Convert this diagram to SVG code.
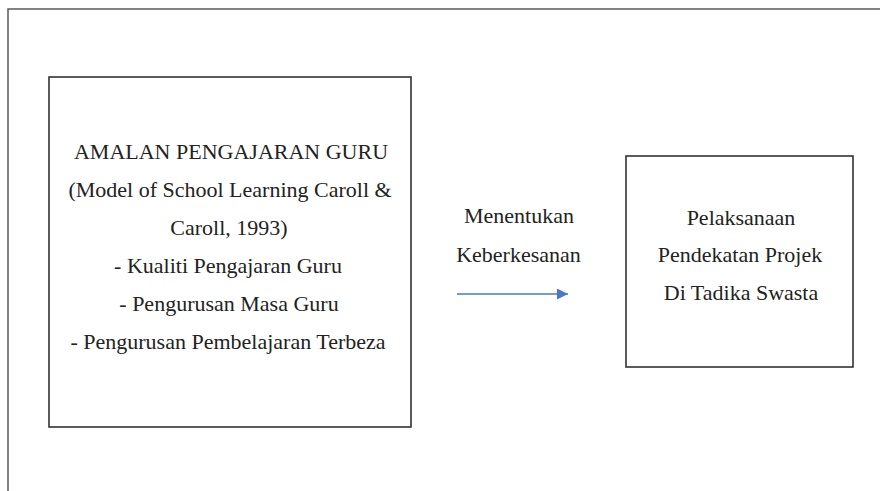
<svg xmlns="http://www.w3.org/2000/svg" width="880" height="491" viewBox="0 0 880 491">
<style>
.frame{fill:none;stroke:#5a5a5a;stroke-width:1.5}
.box{fill:#fff;stroke:#333;stroke-width:1.6}
.t{font-family:"Liberation Serif","Times New Roman",serif;font-size:22px;fill:#222;text-anchor:middle}
.arrow{stroke:#4a78c8;stroke-width:1.6;fill:none}
</style>
<defs>
<marker id="ah" viewBox="0 0 10 10" refX="10" refY="5" markerWidth="11" markerHeight="11" markerUnits="userSpaceOnUse" orient="auto">
<path d="M0,0 L10,5 L0,10 z" fill="#4a78c8"/>
</marker>
</defs>
<rect width="880" height="491" fill="#fff"/>
<rect class="frame" x="8" y="9" width="900" height="500"/>
<g id="node-amalan">
<rect class="box" x="49" y="77" width="362" height="350"/>
<text class="t" x="231" y="159">AMALAN PENGAJARAN GURU</text>
<text class="t" x="230" y="197">(Model of School Learning Caroll &amp;</text>
<text class="t" x="229" y="235">Caroll, 1993)</text>
<text class="t" x="228" y="273">- Kualiti Pengajaran Guru</text>
<text class="t" x="229" y="311">- Pengurusan Masa Guru</text>
<text class="t" x="228" y="349">- Pengurusan Pembelajaran Terbeza</text>
</g>
<g id="node-pelaksanaan">
<rect class="box" x="626" y="156" width="227" height="211"/>
<text class="t" x="741" y="225">Pelaksanaan</text>
<text class="t" x="740" y="262">Pendekatan Projek</text>
<text class="t" x="741" y="300">Di Tadika Swasta</text>
</g>
<g id="connectors">
<line class="arrow" x1="457" y1="294" x2="568" y2="294" marker-end="url(#ah)"/>
<text class="t" x="519" y="223">Menentukan</text>
<text class="t" x="518.5" y="262">Keberkesanan</text>
</g>
</svg>
